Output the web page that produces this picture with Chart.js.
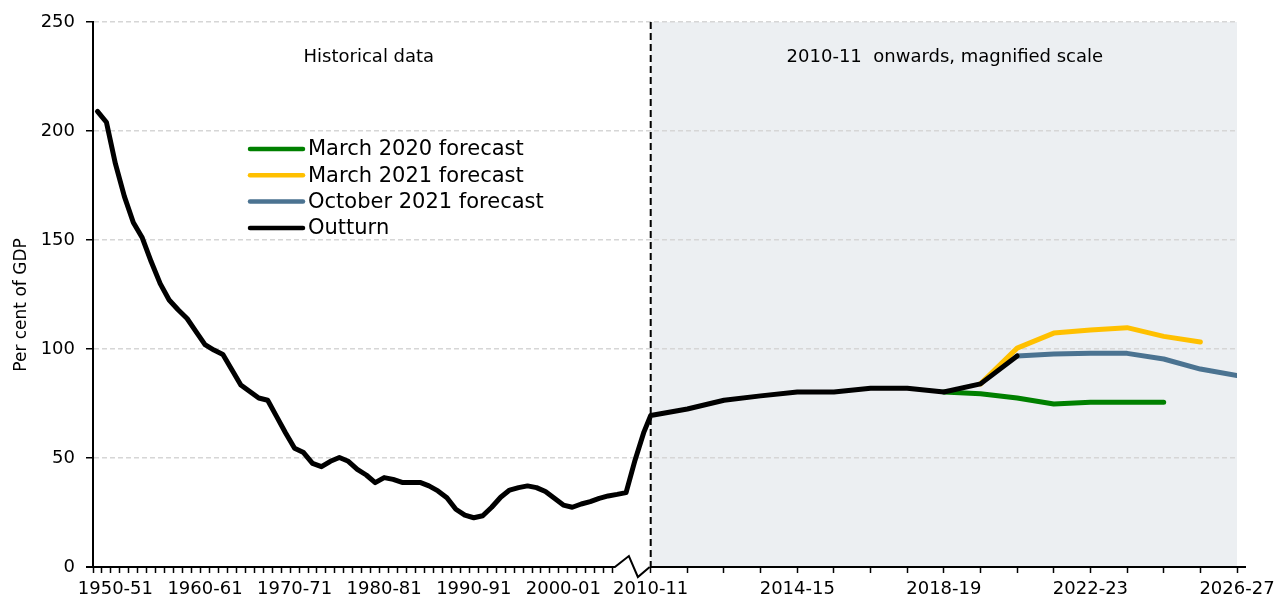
<!DOCTYPE html>
<html>
<head>
<meta charset="utf-8">
<script src="https://cdn.jsdelivr.net/npm/chart.js@4.4.1/dist/chart.umd.min.js"></script>
<style>
  html, body { margin: 0; padding: 0; background: #fff; }
  #wrap { width: 1274px; height: 603px; }
</style>
</head>
<body>
<div id="wrap"><canvas id="debtChart" width="1274" height="603"></canvas></div>
<script>
// Public sector net debt, per cent of GDP
const histStart = 1948; // 1948-49 is the first year in the chart
const histDebt = [
  209, 204, 185, 170, 158, 151, 140, 130, 122.5, 118,
  114, 108, 102, 99.5, 97.5, 90.5, 83.5, 80.5, 77.5, 76.5,
  69, 61.5, 54.5, 52.5, 47.5, 46, 48.5, 50.2, 48.5, 44.8,
  42.2, 38.7, 41, 40.2, 38.8, 38.8, 38.8, 37.2, 34.9, 31.8,
  26.5, 23.8, 22.6, 23.5, 27.4, 32, 35.3, 36.4, 37.2, 36.4,
  34.6, 31.5, 28.4, 27.4, 28.9, 30, 31.5, 32.6, 33.3, 34.1,
  49, 62
];
const recentYears = [
  "2010-11", "2011-12", "2012-13", "2013-14", "2014-15", "2015-16",
  "2016-17", "2017-18", "2018-19", "2019-20", "2020-21", "2021-22",
  "2022-23", "2023-24", "2024-25", "2025-26", "2026-27"
];
const outturn = [69.5, 72.5, 76.5, 78.5, 80.3, 80.3, 82, 82, 80.3, 84, 96.8];
const march2020 = [null, null, null, null, null, null, null, null, 80.3, 79.5, 77.5, 74.8, 75.6, 75.6, 75.6];
const march2021 = [null, null, null, null, null, null, null, null, null, 84, 100.4, 107.3, 108.7, 109.8, 105.8, 103.2];
const october2021 = [null, null, null, null, null, null, null, null, null, null, 96.8, 97.7, 98, 98, 95.4, 90.8, 87.8];

// tick labels shown on the axis
const histLabels = ["1950-51", "1960-61", "1970-71", "1980-81", "1990-91", "2000-01"];
const recentLabels = ["2010-11", "2014-15", "2018-19", "2022-23", "2026-27"];

// x axis layout: one unit per year on the left, magnified on the right
const BREAK_AT = 62.25;
const MAG = 4.09;
const LEFT_TICKS = 58;
const X_MAX = BREAK_AT + (recentYears.length - 1) * MAG;

function fy(y) {
  return y + "-" + String((y + 1) % 100).padStart(2, "0");
}
const histYears = histDebt.map((v, i) => fy(histStart + i));
const xHist = (i) => i + 0.5;
const xRecent = (k) => BREAK_AT + k * MAG;

const histPoints = histDebt.map((v, i) => ({ x: xHist(i), y: v }));
const recentPoints = (arr) =>
  arr.map((v, k) => ({ x: xRecent(k), y: v }));

const FONT = "'DejaVu Sans', sans-serif";

// Tick positions and labels for the broken axis
const xTicks = [];
for (let i = 0; i <= LEFT_TICKS; i++) xTicks.push({ value: i, label: "", mark: true });
histLabels.forEach((l) => xTicks.push({ value: xHist(histYears.indexOf(l)), label: l, mark: false }));
recentYears.forEach((y, k) =>
  xTicks.push({ value: xRecent(k), label: recentLabels.includes(y) ? y : "", mark: true })
);
xTicks.sort((a, b) => a.value - b.value);

function tickInfo(value) {
  return xTicks.find((t) => Math.abs(t.value - value) < 1e-6);
}

// Shaded region, break line, axis line, titles and legend
const decorPlugin = {
  id: "decor",
  beforeDraw(chart) {
    const { ctx, chartArea, scales } = chart;
    const xb = scales.x.getPixelForValue(BREAK_AT);
    ctx.save();
    ctx.fillStyle = "#eceff2";
    ctx.fillRect(xb, chartArea.top, chartArea.right - xb, chartArea.bottom - chartArea.top);
    ctx.restore();
  },
  beforeDatasetsDraw(chart) {
    const { ctx, chartArea, scales } = chart;
    const xb = scales.x.getPixelForValue(BREAK_AT);
    ctx.save();
    ctx.strokeStyle = "#000";
    ctx.lineWidth = 2;
    ctx.setLineDash([7, 4]);
    ctx.beginPath();
    ctx.moveTo(xb, chartArea.top);
    ctx.lineTo(xb, chartArea.bottom);
    ctx.stroke();
    ctx.restore();

    const left = chartArea.left, right = chartArea.right;
    ctx.save();
    ctx.font = "18px " + FONT;
    ctx.fillStyle = "#000";
    ctx.textAlign = "center";
    ctx.textBaseline = "middle";
    ctx.fillText("Historical data", (left + xb) / 2 - 3, chartArea.top + 35);
    ctx.fillText("2010-11  onwards, magnified scale", (xb + right) / 2 + 1, chartArea.top + 35);
    ctx.restore();

    // y axis title
    ctx.save();
    ctx.translate(22, 305);
    ctx.rotate(-Math.PI / 2);
    ctx.font = "17px " + FONT;
    ctx.fillStyle = "#000";
    ctx.textAlign = "center";
    ctx.textBaseline = "middle";
    ctx.fillText("Per cent of GDP", 0, 0);
    ctx.restore();
  },
  afterDraw(chart) {
    const { ctx, chartArea, scales } = chart;
    const y0 = chartArea.bottom;
    const xa = scales.x.getPixelForValue(LEFT_TICKS + 0.25);
    const xb = scales.x.getPixelForValue(BREAK_AT);
    ctx.save();
    ctx.strokeStyle = "#000";
    ctx.lineWidth = 2;
    ctx.lineJoin = "miter";
    ctx.beginPath();
    ctx.moveTo(chartArea.left - 7, y0);
    ctx.lineTo(xa, y0);
    ctx.lineTo(xa + 14, y0 - 11);
    ctx.lineTo(xa + 23, y0 + 10);
    ctx.lineTo(xb - 1, y0);
    ctx.moveTo(xb, y0);
    ctx.lineTo(chartArea.right + 9, y0);
    ctx.stroke();
    ctx.restore();

    // legend inside the plot
    const entries = [1, 2, 3, 0].map((i) => chart.data.datasets[i]);
    ctx.save();
    ctx.font = "21px " + FONT;
    ctx.textBaseline = "middle";
    ctx.textAlign = "left";
    entries.forEach((ds, r) => {
      const y = 149 + r * 26.3;
      ctx.strokeStyle = ds.borderColor;
      ctx.lineWidth = 4.5;
      ctx.lineCap = "round";
      ctx.beginPath();
      ctx.moveTo(250, y);
      ctx.lineTo(303, y);
      ctx.stroke();
      ctx.fillStyle = "#000";
      ctx.fillText(ds.label, 308, y + 1);
    });
    ctx.restore();
  }
};

const ctx = document.getElementById("debtChart").getContext("2d");
const lineStyle = { borderWidth: 5, pointRadius: 0, tension: 0, fill: false,
  borderJoinStyle: "round", borderCapStyle: "round", spanGaps: false };

new Chart(ctx, {
  type: "line",
  data: {
    datasets: [
      Object.assign({ label: "Outturn", data: histPoints.concat(recentPoints(outturn)),
        borderColor: "#000000", order: 0 }, lineStyle),
      Object.assign({ label: "March 2020 forecast", data: recentPoints(march2020),
        borderColor: "#008000", order: 3 }, lineStyle),
      Object.assign({ label: "March 2021 forecast", data: recentPoints(march2021),
        borderColor: "#ffc000", order: 2 }, lineStyle),
      Object.assign({ label: "October 2021 forecast", data: recentPoints(october2021),
        borderColor: "#4b7391", order: 1 }, lineStyle)
    ]
  },
  options: {
    responsive: false,
    animation: false,
    layout: { padding: { left: 0, right: 37, top: 22, bottom: 0 } },
    plugins: {
      legend: { display: false },
      tooltip: { enabled: false }
    },
    scales: {
      x: {
        type: "linear",
        min: 0,
        max: X_MAX,
        afterFit: (scale) => {
          scale.height = 36;
          scale.paddingLeft = 0;
          scale.paddingRight = 0;
        },
        afterBuildTicks: (scale) => {
          scale.ticks = xTicks.map((t) => ({ value: t.value }));
        },
        ticks: {
          autoSkip: false,
          maxRotation: 0,
          minRotation: 0,
          padding: 6,
          color: "#000",
          font: { family: FONT, size: 18 },
          callback: (value) => {
            const t = tickInfo(value);
            return t ? t.label : "";
          }
        },
        grid: {
          drawOnChartArea: false,
          drawTicks: true,
          tickLength: 6,
          tickWidth: 1.5,
          tickColor: (c) => {
            const t = c.tick ? tickInfo(c.tick.value) : null;
            return t && t.mark ? "#000" : "rgba(0,0,0,0)";
          }
        },
        border: { display: false }
      },
      y: {
        min: 0,
        max: 250,
        afterFit: (scale) => { scale.width = 93; },
        ticks: {
          stepSize: 50,
          padding: 11,
          color: "#000",
          font: { family: FONT, size: 18 }
        },
        grid: {
          color: (c) => (c.tick && c.tick.value === 0 ? "rgba(0,0,0,0)" : "#d6d6d6"),
          lineWidth: 1.5,
          tickLength: 7,
          tickColor: "#000",
          tickWidth: 1.5,
          tickBorderDash: []
        },
        border: { display: true, color: "#000", width: 2, dash: [5, 3] }
      }
    }
  },
  plugins: [decorPlugin]
});
</script>
</body>
</html>
